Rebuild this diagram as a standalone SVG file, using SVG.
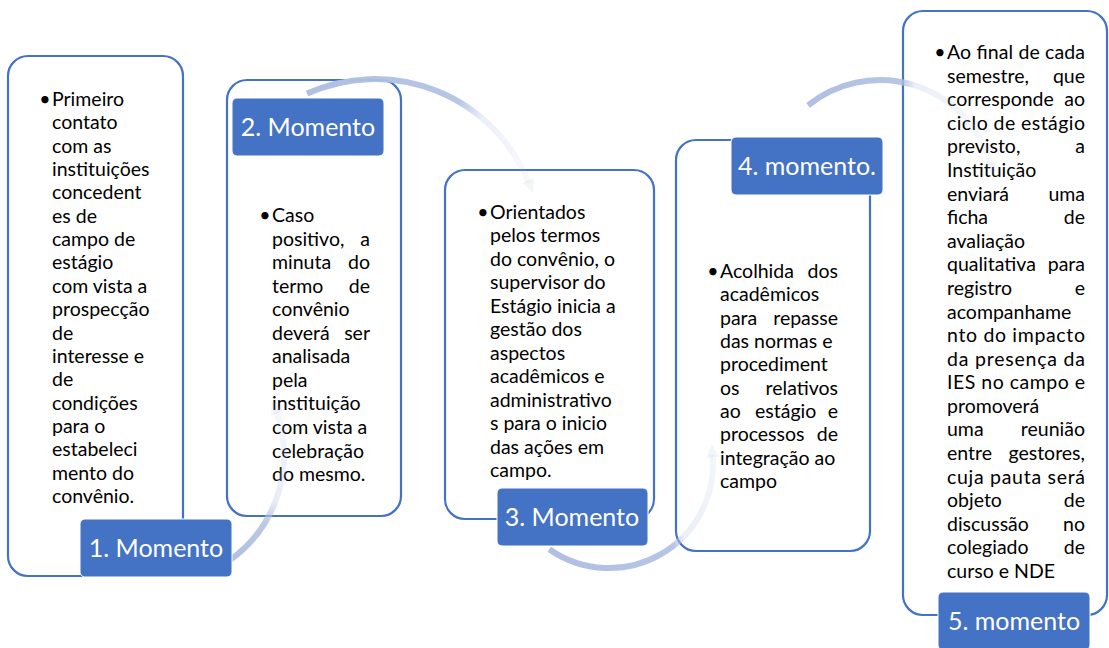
<svg xmlns="http://www.w3.org/2000/svg" width="1109" height="648" viewBox="0 0 1109 648">
<style>
.box{fill:#fff;stroke:#4472C4;stroke-width:2.2}
.lbl{fill:#4472C4;stroke:#fff;stroke-width:1}
.lt{font-family:Lato,"Liberation Sans",sans-serif;font-size:25px;fill:#fff;text-anchor:middle}
.bt{font-family:Lato,"Liberation Sans",sans-serif;font-size:19.5px;fill:#000}
.bu{text-anchor:middle}
.r{text-anchor:end}
.arc{fill:none;stroke-width:6}
</style>
<defs>
<linearGradient id="gA" gradientUnits="userSpaceOnUse" x1="229" y1="561" x2="276" y2="411">
<stop offset="0" stop-color="#B0BFE2" stop-opacity="1"/><stop offset="0.3" stop-color="#B0BFE2" stop-opacity="0.85"/><stop offset="0.45" stop-color="#B0BFE2" stop-opacity="0.3"/><stop offset="1" stop-color="#B0BFE2" stop-opacity="0.12"/>
</linearGradient>
<linearGradient id="gB" gradientUnits="userSpaceOnUse" x1="307" y1="94" x2="529" y2="183">
<stop offset="0" stop-color="#B0BFE2" stop-opacity="1"/><stop offset="0.6" stop-color="#B0BFE2" stop-opacity="0.9"/><stop offset="0.72" stop-color="#B0BFE2" stop-opacity="0.25"/><stop offset="1" stop-color="#B0BFE2" stop-opacity="0.08"/>
</linearGradient>
<linearGradient id="gC" gradientUnits="userSpaceOnUse" x1="549" y1="549" x2="713" y2="455">
<stop offset="0" stop-color="#B0BFE2" stop-opacity="1"/><stop offset="0.58" stop-color="#B0BFE2" stop-opacity="0.9"/><stop offset="0.65" stop-color="#B0BFE2" stop-opacity="0.25"/><stop offset="1" stop-color="#B0BFE2" stop-opacity="0.15"/>
</linearGradient>
<linearGradient id="gD" gradientUnits="userSpaceOnUse" x1="808" y1="105" x2="991" y2="165">
<stop offset="0" stop-color="#B0BFE2" stop-opacity="1"/><stop offset="0.42" stop-color="#B0BFE2" stop-opacity="0.9"/><stop offset="0.5" stop-color="#B0BFE2" stop-opacity="0.25"/><stop offset="1" stop-color="#B0BFE2" stop-opacity="0.1"/>
</linearGradient>
<marker id="ah" viewBox="0 0 10 10" refX="2" refY="5" markerWidth="2.2" markerHeight="2.2" orient="auto" markerUnits="strokeWidth">
<path d="M0,0 L10,5 L0,10 z" fill="#B0BFE2" fill-opacity="0.15"/>
</marker>
</defs>

<g id="node1">
<rect class="box" x="8" y="56" width="175" height="520" rx="20"/>
<text class="bt"><tspan class="bu" x="45" y="106">•</tspan></text>
<text class="bt" x="52" y="106"><tspan x="52" y="106">Primeiro</tspan><tspan x="52" dy="23.35">contato</tspan><tspan x="52" dy="23.35">com as</tspan><tspan x="52" dy="23.35">instituições</tspan><tspan x="52" dy="23.35">concedent</tspan><tspan x="52" dy="23.35">es de</tspan><tspan x="52" dy="23.35">campo de</tspan><tspan x="52" dy="23.35">estágio</tspan><tspan x="52" dy="23.35">com vista a</tspan><tspan x="52" dy="23.35">prospecção</tspan><tspan x="52" dy="23.35">de</tspan><tspan x="52" dy="23.35">interesse e</tspan><tspan x="52" dy="23.35">de</tspan><tspan x="52" dy="23.35">condições</tspan><tspan x="52" dy="23.35">para o</tspan><tspan x="52" dy="23.35">estabeleci</tspan><tspan x="52" dy="23.35">mento do</tspan><tspan x="52" dy="23.35">convênio.</tspan></text>
</g>

<g id="node2">
<rect class="box" x="227" y="80" width="174" height="436" rx="20"/>
<text class="bt"><tspan class="bu" x="265" y="222">•</tspan></text>
<text class="bt"><tspan x="272" y="222">Caso</tspan><tspan x="272" y="245.6">positivo,</tspan><tspan class="r" x="370" y="245.6">a</tspan><tspan x="272" y="269.1">minuta</tspan><tspan class="r" x="370" y="269.1">do</tspan><tspan x="272" y="292.7">termo</tspan><tspan class="r" x="370" y="292.7">de</tspan><tspan x="272" y="316.2">convênio</tspan><tspan x="272" y="339.8">deverá</tspan><tspan class="r" x="370" y="339.8">ser</tspan><tspan x="272" y="363.3">analisada</tspan><tspan x="272" y="386.9">pela</tspan><tspan x="272" y="410.4">instituição</tspan><tspan x="272" y="434">com vista a</tspan><tspan x="272" y="457.5">celebração</tspan><tspan x="272" y="481">do mesmo.</tspan></text>
</g>

<g id="node3">
<rect class="box" x="445" y="170" width="209" height="349" rx="20"/>
<text class="bt"><tspan class="bu" x="483" y="219">•</tspan></text>
<text class="bt"><tspan x="490" y="219">Orientados</tspan><tspan x="490" dy="23.45">pelos termos</tspan><tspan x="490" dy="23.45">do convênio, o</tspan><tspan x="490" dy="23.45">supervisor do</tspan><tspan x="490" dy="23.45">Estágio inicia a</tspan><tspan x="490" dy="23.45">gestão dos</tspan><tspan x="490" dy="23.45">aspectos</tspan><tspan x="490" dy="23.45">acadêmicos e</tspan><tspan x="490" dy="23.45">administrativo</tspan><tspan x="490" dy="23.45">s para o inicio</tspan><tspan x="490" dy="23.45">das ações em</tspan><tspan x="490" dy="23.45">campo.</tspan></text>
</g>

<g id="node4">
<rect class="box" x="676" y="140" width="194" height="411" rx="20"/>
<text class="bt"><tspan class="bu" x="713" y="278">•</tspan></text>
<text class="bt"><tspan x="720" y="278">Acolhida</tspan><tspan class="r" x="838" y="278">dos</tspan><tspan x="720" y="301.3">acadêmicos</tspan><tspan x="720" y="324.7">para</tspan><tspan class="r" x="838" y="324.7">repasse</tspan><tspan x="720" y="348">das normas e</tspan><tspan x="720" y="371.3">procediment</tspan><tspan x="720" y="394.7">os</tspan><tspan class="r" x="838" y="394.7">relativos</tspan><tspan x="720" y="418">ao</tspan><tspan x="755" y="418">estágio</tspan><tspan class="r" x="838" y="418">e</tspan><tspan x="720" y="441.3">processos</tspan><tspan class="r" x="838" y="441.3">de</tspan><tspan x="720" y="464.6">integração ao</tspan><tspan x="720" y="488">campo</tspan></text>
</g>

<g id="node5">
<rect class="box" x="903" y="11" width="204" height="604" rx="20"/>
<text class="bt"><tspan class="bu" x="940" y="59">•</tspan></text>
<text class="bt"><tspan x="947" y="59" textLength="138" lengthAdjust="spacing">Ao final de cada</tspan><tspan x="947" y="82.6">semestre,</tspan><tspan class="r" x="1085" y="82.6">que</tspan><tspan x="947" y="106.2">corresponde</tspan><tspan class="r" x="1085" y="106.2">ao</tspan><tspan x="947" y="129.8" textLength="138" lengthAdjust="spacing">ciclo de estágio</tspan><tspan x="947" y="153.4">previsto,</tspan><tspan class="r" x="1085" y="153.4">a</tspan><tspan x="947" y="177">Instituição</tspan><tspan x="947" y="200.5">enviará</tspan><tspan class="r" x="1085" y="200.5">uma</tspan><tspan x="947" y="224.1">ficha</tspan><tspan class="r" x="1085" y="224.1">de</tspan><tspan x="947" y="247.7">avaliação</tspan><tspan x="947" y="271.3">qualitativa</tspan><tspan class="r" x="1085" y="271.3">para</tspan><tspan x="947" y="294.9">registro</tspan><tspan class="r" x="1085" y="294.9">e</tspan><tspan x="947" y="318.5">acompanhame</tspan><tspan x="947" y="342.1" textLength="138" lengthAdjust="spacing">nto do impacto</tspan><tspan x="947" y="365.7" textLength="138" lengthAdjust="spacing">da presença da</tspan><tspan x="947" y="389.3" textLength="138" lengthAdjust="spacing">IES no campo e</tspan><tspan x="947" y="412.9">promoverá</tspan><tspan x="947" y="436.4">uma</tspan><tspan class="r" x="1085" y="436.4">reunião</tspan><tspan x="947" y="460">entre</tspan><tspan class="r" x="1085" y="460">gestores,</tspan><tspan x="947" y="483.6" textLength="138" lengthAdjust="spacing">cuja pauta será</tspan><tspan x="947" y="507.2">objeto</tspan><tspan class="r" x="1085" y="507.2">de</tspan><tspan x="947" y="530.8">discussão</tspan><tspan class="r" x="1085" y="530.8">no</tspan><tspan x="947" y="554.4">colegiado</tspan><tspan class="r" x="1085" y="554.4">de</tspan><tspan x="947" y="578">curso e NDE</tspan></text>
</g>

<g id="connectors">
<path class="arc" stroke="url(#gA)" marker-end="url(#ah)" d="M229,560.7 A129,129 0 0 0 276.2,410.9"/>
<path class="arc" stroke="url(#gB)" marker-end="url(#ah)" d="M307,93.6 A166,166 0 0 1 528.9,182.8"/>
<path class="arc" stroke="url(#gC)" marker-end="url(#ah)" d="M549.3,549.2 A104,104 0 0 0 712.6,454.9"/>
<path class="arc" stroke="url(#gD)" marker-end="url(#ah)" d="M808.1,105.3 A115,115 0 0 1 991.1,165.2"/>
</g>

<g id="label1"><rect class="lbl" x="80" y="519" width="152" height="58" rx="5"/><text class="lt" x="156" y="557">1. Momento</text></g>
<g id="label2"><rect class="lbl" x="232" y="98" width="152" height="58" rx="5"/><text class="lt" x="308" y="136">2. Momento</text></g>
<g id="label3"><rect class="lbl" x="497" y="488" width="151" height="58" rx="5"/><text class="lt" x="572" y="526">3. Momento</text></g>
<g id="label4"><rect class="lbl" x="731" y="137" width="152" height="58" rx="5"/><text class="lt" x="807" y="175">4. momento.</text></g>
<g id="label5"><rect class="lbl" x="938" y="592" width="152" height="58" rx="5"/><text class="lt" x="1014" y="630">5. momento</text></g>
</svg>
